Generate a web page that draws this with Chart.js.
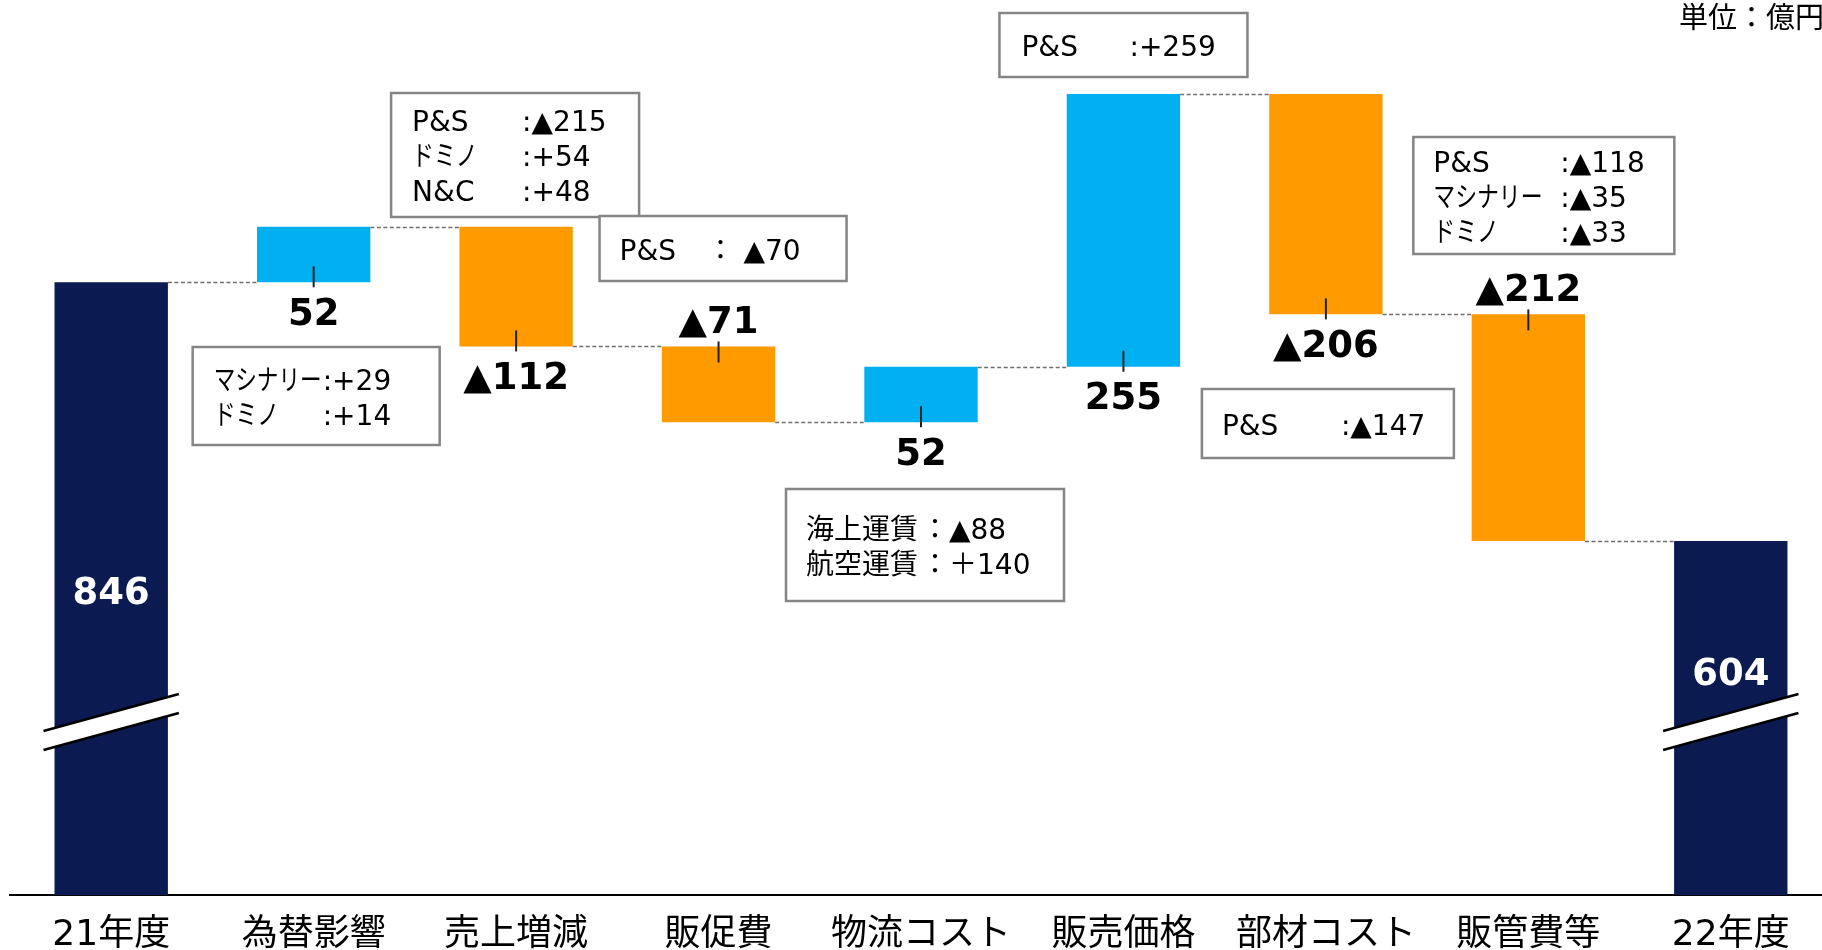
<!DOCTYPE html>
<html lang="ja">
<head>
<meta charset="utf-8">
<title>営業利益 増減要因</title>
<script src="https://cdn.jsdelivr.net/npm/chart.js@4.4.1/dist/chart.umd.min.js"></script>
<style>
html, body { margin: 0; padding: 0; background: #fff; overflow: hidden; }
#wrap { position: relative; width: 1832px; height: 950px; }
</style>
</head>
<body>
<div id="wrap"><canvas id="chart"></canvas></div>
<script>
// ---- data ----
const categories = ['21年度', '為替影響', '売上増減', '販促費', '物流コスト', '販売価格', '部材コスト', '販管費等', '22年度'];
const startValue = 846;
const deltas = [52, -112, -71, 52, 255, -206, -212];
const endValue = 604;
const unitText = '単位：億円';

// breakdown per category: [label, value]
const notes = [
	null,
	[['マシナリー', ':+29'], ['ドミノ', ':+14']],
	[['P&S', ':▲215'], ['ドミノ', ':+54'], ['N&C', ':+48']],
	[['P&S', '： ▲70']],
	[['海上運賃', '：▲88'], ['航空運賃', '：＋140']],
	[['P&S', ':+259']],
	[['P&S', ':▲147']],
	[['P&S', ':▲118'], ['マシナリー', ':▲35'], ['ドミノ', ':▲33']],
	null,
];

// ---- layout (pixels) ----
const yMin = 273;
const yMax = 1110;
const axisHeight = 55;
const breakOffset = 173;          // break mark height above the axis
const labelAbove = [false, false, false, true, false, false, false, true, false];
const insideLabelOffset = [312, 0, 0, 0, 0, 0, 0, 0, 134];
// note boxes, x relative to bar centre
const boxes = [
	null,
	{dx: -121, top: 347, w: 247, h: 98, tx: -100, cx: 9},
	{dx: -125, top: 93, w: 248, h: 124, tx: -104, cx: 6},
	{dx: -119, top: 216, w: 247, h: 65, tx: -99, cx: -12},
	{dx: -135, top: 489, w: 278, h: 112, tx: -115, cx: 0},
	{dx: -124, top: 13, w: 248, h: 64, tx: -102, cx: 6},
	{dx: -124, top: 389, w: 252, h: 69, tx: -104, cx: 15},
	{dx: -115, top: 137, w: 261, h: 117, tx: -95, cx: 32},
	null,
];

const NAVY = '#0b1a51';
const BLUE = '#00b0f0';
const ORANGE = '#ff9a00';
const FONT = '"DejaVu Sans", "Noto Sans CJK JP", sans-serif';

// running totals after each bar
const totals = [startValue];
deltas.forEach(d => totals.push(totals[totals.length - 1] + d));

const ranges = [[0, startValue]];
deltas.forEach((d, i) => ranges.push([totals[i], totals[i + 1]]));
ranges.push([0, endValue]);

const colors = [NAVY, ...deltas.map(d => d >= 0 ? BLUE : ORANGE), NAVY];

function fmt(v) {
	return v < 0 ? '▲' + Math.abs(v) : String(v);
}

const extras = {
	id: 'extras',
	afterDatasetsDraw(chart) {
		const ctx = chart.ctx;
		const bars = chart.getDatasetMeta(0).data;
		const y = chart.scales.y;
		const area = chart.chartArea;
		ctx.save();

		// dashed connectors
		ctx.strokeStyle = '#6e6e6e';
		ctx.lineWidth = 1.5;
		ctx.setLineDash([4, 2.5]);
		for (let i = 0; i < bars.length - 1; i++) {
			const py = Math.round(y.getPixelForValue(totals[i])) + 0.5;
			ctx.beginPath();
			ctx.moveTo(bars[i].x + bars[i].width / 2, py);
			ctx.lineTo(bars[i + 1].x - bars[i + 1].width / 2, py);
			ctx.stroke();
		}
		ctx.setLineDash([]);

		// axis break marks
		[0, bars.length - 1].forEach(i => {
			const b = bars[i];
			const cy = area.bottom - breakOffset;
			const half = b.width / 2 + 11;
			const rise = half * 37 / 135;
			const gap = 9.5;
			const x1 = b.x - half, x2 = b.x + half;
			ctx.fillStyle = '#fff';
			ctx.beginPath();
			ctx.moveTo(x1, cy + rise - gap);
			ctx.lineTo(x2, cy - rise - gap);
			ctx.lineTo(x2, cy - rise + gap);
			ctx.lineTo(x1, cy + rise + gap);
			ctx.closePath();
			ctx.fill();
			ctx.strokeStyle = '#000';
			ctx.lineWidth = 2.5;
			[-gap, gap].forEach(g => {
				ctx.beginPath();
				ctx.moveTo(x1, cy + rise + g);
				ctx.lineTo(x2, cy - rise + g);
				ctx.stroke();
			});
		});

		// value labels + leader ticks
		ctx.textAlign = 'center';
		ctx.textBaseline = 'middle';
		ctx.font = 'bold 37px ' + FONT;
		bars.forEach((b, i) => {
			const top = Math.min(b.y, b.base);
			const bottom = Math.max(b.y, b.base);
			if (i == 0 || i == bars.length - 1) {
				ctx.fillStyle = '#fff';
				const v = i == 0 ? startValue : endValue;
				ctx.fillText(String(v), b.x, Math.max(top, area.top) + insideLabelOffset[i]);
				return;
			}
			const d = deltas[i - 1];
			ctx.strokeStyle = '#222';
			ctx.lineWidth = 2;
			ctx.beginPath();
			if (labelAbove[i]) {
				ctx.moveTo(b.x, top - 5);
				ctx.lineTo(b.x, top + 16);
			} else {
				ctx.moveTo(b.x, bottom - 16);
				ctx.lineTo(b.x, bottom + 5);
			}
			ctx.stroke();
			ctx.fillStyle = '#000';
			ctx.fillText(fmt(d), b.x, labelAbove[i] ? top - 23 : bottom + 33);
		});

		// note boxes
		ctx.font = '28px ' + FONT;
		ctx.textAlign = 'left';
		bars.forEach((b, i) => {
			const bx = boxes[i];
			if (!bx || !notes[i]) return;
			const left = b.x + bx.dx;
			ctx.fillStyle = '#fff';
			ctx.fillRect(left, bx.top, bx.w, bx.h);
			ctx.strokeStyle = '#858585';
			ctx.lineWidth = 2.5;
			ctx.strokeRect(left, bx.top, bx.w, bx.h);
			const rows = notes[i];
			const lh = 35;
			const y0 = bx.top + bx.h / 2 + 4 - (rows.length - 1) * lh / 2;
			ctx.fillStyle = '#000';
			rows.forEach((r, k) => {
				const ty = y0 + k * lh;
				const tx = b.x + bx.tx;
				const cx = b.x + bx.cx;
				let mw = cx - tx - 1;
				// katakana is proportional (narrower) in the original
				if (/[\u30A0-\u30FF]/.test(r[0])) {
					mw = Math.min(mw, ctx.measureText(r[0]).width * 0.78);
				}
				ctx.fillText(r[0], tx, ty, mw);
				ctx.fillText(r[1], cx, ty);
			});
		});

		// unit
		ctx.font = '29px "Noto Sans CJK JP", sans-serif';
		ctx.fillStyle = '#000';
		ctx.textAlign = 'left';
		ctx.fillText(unitText, 1679, 17);

		ctx.restore();
	}
};

window.addEventListener('load', e => {
	new Chart('chart', {
		type: 'bar',
		data: {
			labels: categories,
			datasets: [{
				data: ranges,
				backgroundColor: colors,
				borderWidth: 0,
				barPercentage: 0.56,
				categoryPercentage: 1,
			}],
		},
		options: {
			responsive: true,
			maintainAspectRatio: false,
			animation: false,
			layout: {padding: {left: 10, right: 0, top: 0, bottom: 0}},
			plugins: {
				legend: {display: false},
				tooltip: {enabled: false},
			},
			scales: {
				x: {
					grid: {display: false, drawTicks: false},
					border: {display: true, color: '#000', width: 2},
					ticks: {
						color: '#000',
						padding: 19,
						maxRotation: 0,
						autoSkip: false,
						font: {family: FONT, size: 36, lineHeight: 1.2},
					},
					afterFit(s) { s.height = axisHeight; },
				},
				y: {display: false, min: yMin, max: yMax},
			},
		},
		plugins: [extras],
	});
});
</script>
</body>
</html>
